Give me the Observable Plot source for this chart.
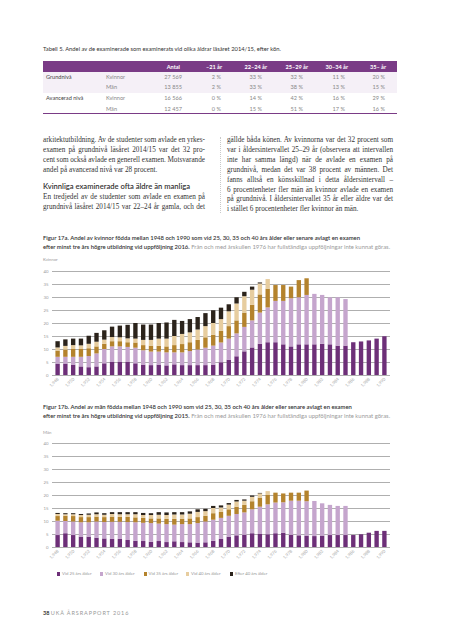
<!DOCTYPE html>
<html><head><meta charset="utf-8">
<script src="https://cdn.jsdelivr.net/npm/d3@7"></script>
<script src="https://cdn.jsdelivr.net/npm/@observablehq/plot@0.6"></script>
<style>
body{margin:0;background:#fff;}
#page{position:relative;width:453px;height:640px;overflow:hidden;font-family:Lato,"Open Sans",sans-serif;color:#333;}
.t{position:absolute;white-space:nowrap;}
.chart{position:absolute;left:0;}
.chart svg{overflow:visible;}
</style></head><body><div id="page"></div>
<script>
// ---------- DATA ----------
const years = [1948,1949,1950,1951,1952,1953,1954,1955,1956,1957,1958,1959,1960,1961,1962,1963,1964,1965,1966,1967,1968,1969,1970,1971,1972,1973,1974,1975,1976,1977,1978,1979,1980,1981,1982,1983,1984,1985,1986,1987,1988,1989,1990];
const tickYears = [1948,1950,1952,1954,1956,1958,1960,1962,1964,1966,1968,1970,1972,1974,1976,1978,1980,1982,1984,1986,1988,1990];
const yTicks = [0,5,10,15,20,25,30,35,40];
const seriesNames = ["Vid 25 års ålder","Vid 30 års ålder","Vid 35 års ålder","Vid 40 års ålder","Efter 40 års ålder"];
const seriesColors = ["#6d2f78","#c5a5cd","#b4832d","#e7cd9f","#2b231b"];

// Kvinnor (segment values, percent)
const kv25 = [4.4,4.4,4.0,3.3,3.0,3.3,4.5,5.0,5.0,5.0,4.5,4.0,3.8,4.0,3.7,4.1,3.8,3.8,3.8,3.8,4.0,4.9,5.9,7.2,9.1,10.6,12.0,12.6,12.6,11.8,11.0,11.8,11.8,11.8,12.0,11.8,11.3,11.3,12.6,12.9,13.3,14.0,14.9];
const kv30 = [2.6,2.6,3.0,3.7,4.3,5.0,5.5,6.0,6.0,5.8,6.0,5.5,5.2,5.0,5.0,4.6,4.9,5.4,6.0,6.7,7.3,7.6,8.1,8.8,9.4,10.4,12.0,13.4,15.9,16.7,18.5,18.1,19.0,19.4,18.8,18.1,18.6,17.9];
const kv35 = [2.4,2.8,3.0,3.0,3.0,2.7,2.0,2.0,2.0,1.8,2.0,2.0,2.3,2.2,2.3,2.8,3.2,3.4,3.7,4.0,4.2,4.5,4.8,5.0,5.5,6.0,7.0,7.2,6.1,6.1,4.5,6.6,6.4];
const kv40 = [1.2,1.4,1.5,1.4,1.7,1.8,1.6,1.6,1.5,1.5,1.5,2.0,2.2,2.8,3.0,3.5,3.9,3.8,4.0,4.3,4.5,4.5,5.7,6.5,6.3,5.8,4.2,3.7];
const kvEfter = [2.4,2.5,2.5,2.6,3.1,3.4,3.6,4.0,4.5,5.2,6.0,5.9,5.9,6.0,6.2,6.2,5.0,5.1,4.8,5.0,4.9,4.4,2.7,2.4,1.7,1.2,0.4];

// Män (segment values, percent)
const man25 = [4.6,5.3,4.6,4.0,4.0,3.6,3.3,3.1,3.1,2.7,2.4,2.3,2.0,2.3,1.9,2.2,1.9,1.8,1.7,1.8,2.4,3.1,4.0,4.5,4.7,5.3,5.0,4.9,5.3,5.5,4.7,4.5,4.4,4.2,4.4,4.6,4.6,4.6,4.6,4.9,5.5,6.2,6.2];
const man30 = [5.5,4.7,5.2,5.5,5.5,6.2,6.3,6.6,6.6,6.9,7.1,7.0,7.2,6.7,6.9,6.4,6.9,7.0,7.5,8.0,8.1,8.1,8.0,8.2,8.6,9.2,10.5,11.5,11.8,11.7,13.1,13.3,13.2,13.5,12.4,11.6,11.2,11.2];
const man35 = [1.8,2.0,2.1,2.0,2.0,1.9,1.9,2.0,1.9,2.0,1.9,1.9,1.8,2.0,2.0,2.2,2.0,2.2,2.3,2.2,2.5,2.3,2.5,2.8,2.9,3.1,3.5,3.6,3.8,3.4,3.1,3.1,4.1];
const man40 = [0.8,0.6,0.7,0.8,0.9,0.9,0.9,1.0,1.0,1.0,1.2,1.1,1.3,1.4,1.5,1.7,1.7,1.8,2.0,1.8,2.0,1.7,1.8,2.0,1.6,1.7,1.6,1.5];
const manEfter = [0.4,0.4,0.4,0.4,0.5,0.7,0.6,0.7,0.8,0.8,0.8,0.8,0.7,1.0,1.0,0.9,0.9,0.9,1.0,0.9,0.8,0.8,0.6,0.6,0.5,0.5,0.2];

// Table
const tableHead = ["Antal","–21 år","22–24 år","25–29 år","30–34 år","35– år"];
const tableLevels = ["Grundnivå","","Avancerad nivå",""];
const tableSex = ["Kvinnor","Män","Kvinnor","Män"];
const tableAntal = ["27 569","13 855","16 566","12 457"];
const tableShares = [["2 %","33 %","32 %","11 %","20 %"],["2 %","33 %","38 %","13 %","15 %"],["0 %","14 %","42 %","16 %","29 %"],["0 %","15 %","51 %","17 %","16 %"]];

// ---------- LAYOUT HELPERS ----------
const page = document.getElementById("page");
function txt(s, x, yc, o={}){
  const el = document.createElement("div");
  el.className = "t";
  el.textContent = s;
  const fs = o.size || 6;
  el.style.fontSize = fs+"px";
  el.style.lineHeight = (fs*1.3)+"px";
  el.style.top = (yc - fs*0.65)+"px";
  el.style.left = x+"px";
  if (o.right) el.style.transform = "translateX(-100%)";
  if (o.weight) el.style.fontWeight = o.weight;
  if (o.color) el.style.color = o.color;
  if (o.family) el.style.fontFamily = o.family;
  if (o.ls) el.style.letterSpacing = o.ls;
  if (o.html) el.innerHTML = o.html;
  page.appendChild(el);
  if (o.width) {
    let w = el.getBoundingClientRect().width;
    const gaps = (s.match(/ /g)||[]).length;
    if (!o.last && gaps > 0) {
      let ws = (o.width - w)/gaps;
      if (ws < -1) { el.style.fontSize = (fs * (o.width + gaps) / (w)) + "px"; w = el.getBoundingClientRect().width; ws = (o.width - w)/gaps; }
      el.style.wordSpacing = ws+"px";
    }
  }
  return el;
}
function box(x,y,w,h,c){const d=document.createElement("div");d.style.cssText=`position:absolute;left:${x}px;top:${y}px;width:${w}px;height:${h}px;background:${c}`;page.appendChild(d);return d;}

// ---------- TABLE ----------
txt("Tabell 5. Andel av de examinerade som examinerats vid olika åldrar läsåret 2014/15, efter kön.", 43, 49, {size:5.8, color:"#333"});
box(43, 61, 354, 11, "#7a3b86");
box(43, 72, 354, 21, "#f5f0f7");
box(43, 112.5, 354, 0.8, "#7a3b86");
const headRight = [180, 222, 267, 308, 348, 386];
const valRight = [182, 221, 262, 303, 345, 385];
tableHead.forEach((h,i)=>txt(h, headRight[i], 66.5, {size:5.6, right:true, color:"#fff", weight:700}));
const rowY = [76.7, 86.7, 97.7, 108.3];
rowY.forEach((y,r)=>{
  if (tableLevels[r]) txt(tableLevels[r], 46, y, {size:5.6, color:"#444"});
  txt(tableSex[r], 106, y, {size:5.6, color:"#888"});
  txt(tableAntal[r], valRight[0], y, {size:5.6, right:true, color:"#888"});
  tableShares[r].forEach((v,c)=>txt(v, valRight[c+1], y, {size:5.6, right:true, color:"#888"}));
});

// ---------- BODY TEXT ----------
const serif = '"Liberation Serif","DejaVu Serif",serif';
const leftLines = [
 ["arkitektutbildning. Av de studenter som avlade en yrkes-",0],
 ["examen på grundnivå läsåret 2014/15 var det 32 pro-",0],
 ["cent som också avlade en generell examen. Motsvarande",0],
 ["andel på avancerad nivå var 28 procent.",1]];
leftLines.forEach((l,i)=>txt(l[0], 43, 140.7+9.9*i, {size:7.2, family:serif, color:"#333", width:162, last:l[1]}));
txt("Kvinnliga examinerade ofta äldre än manliga", 43, 186.7, {size:7.6, weight:600, color:"#333"});
[["En tredjedel av de studenter som avlade en examen på",0],["grundnivå läsåret 2014/15 var 22–24 år gamla, och det",0]]
 .forEach((l,i)=>txt(l[0], 43, 197.3+9.9*i, {size:7.2, family:serif, color:"#333", width:162, last:l[1]}));
const rightLines = [
 ["gällde båda könen. Av kvinnorna var det 32 procent som",0],
 ["var i åldersintervallet 25–29 år (observera att intervallen",0],
 ["inte har samma längd) när de avlade en examen på",0],
 ["grundnivå, medan det var 38 procent av männen. Det",0],
 ["fanns alltså en könsskillnad i detta åldersintervall –",0],
 ["6 procentenheter fler män än kvinnor avlade en examen",0],
 ["på grundnivå. I åldersintervallet 35 år eller äldre var det",0],
 ["i stället 6 procentenheter fler kvinnor än män.",1]];
rightLines.forEach((l,i)=>txt(l[0], 227, 140.7+9.9*i, {size:7.2, family:serif, color:"#333", width:166, last:l[1]}));
const sep = document.createElement("div");
sep.style.cssText = "position:absolute;left:220px;top:137px;height:76px;border-left:1px dotted #c9c9c9;";
page.appendChild(sep);

// ---------- CAPTIONS ----------
function caption(y1, line1, bold2, light2){
  txt(line1, 43, y1, {size:5.9, weight:600, color:"#333"});
  txt("", 43, y1+9, {size:5.9, html:`<span style="font-weight:600;color:#333">${bold2}</span> <span style="color:#999">${light2}</span>`});
}
caption(238.3, "Figur 17a. Andel av kvinnor födda mellan 1948 och 1990 som vid 25, 30, 35 och 40 års ålder eller senare avlagt en examen",
  "efter minst tre års högre utbildning vid uppföljning 2016.", "Från och med årskullen 1976 har fullständiga uppföljningar inte kunnat göras.");
txt("Kvinnor", 43, 260, {size:4.3, color:"#999"});
caption(407.3, "Figur 17b. Andel av män födda mellan 1948 och 1990 som vid 25, 30, 35 och 40 års ålder eller senare avlagt en examen",
  "efter minst tre års högre utbildning vid uppföljning 2015.", "Från och med årskullen 1976 har fullständiga uppföljningar inte kunnat göras.");
txt("Män", 43, 432.7, {size:4.3, color:"#999"});

// ---------- CHARTS ----------
function longData(arrs){
  const out = [];
  years.forEach((yr,i)=>arrs.forEach((a,j)=>{ const v=a[i]; if(v!=null) out.push({year:yr, series:seriesNames[j], value:v}); }));
  return out;
}
function chart(data, top){
  const svg = Plot.plot({
    width: 453, height: 130,
    marginLeft: 52, marginRight: 63, marginTop: 9, marginBottom: 17,
    style: {fontFamily:"Lato,sans-serif", fontSize:"4.3px", color:"#9a9a9a", background:"transparent", overflow:"visible"},
    x: {type:"band", domain: years, padding: 0.44, label:null},
    y: {domain:[0,40], label:null},
    color: {domain: seriesNames, range: seriesColors},
    marks: [
      Plot.ruleY(yTicks, {stroke:"#9b9b9b", strokeWidth:0.8}),
      Plot.barY(data, {x:"year", y:"value", fill:"series"}),
      Plot.axisY({ticks: yTicks, tickSize:0, tickPadding:4, label:null, fill:"#9a9a9a"}),
      Plot.axisX({ticks: tickYears, tickSize:0, tickPadding:3, tickRotate:-45, label:null, fill:"#a8a8a8"})
    ]
  });
  const wrap = document.createElement("div");
  wrap.className = "chart";
  wrap.style.top = top+"px";
  wrap.appendChild(svg);
  page.appendChild(wrap);
}
chart(longData([kv25,kv30,kv35,kv40,kvEfter]), 262);
chart(longData([man25,man30,man35,man40,manEfter]), 434);

// ---------- LEGEND ----------
const legX = [57, 100, 143.5, 186, 230];
seriesNames.forEach((s,i)=>{
  box(legX[i], 572.3, 3.4, 3.4, seriesColors[i]);
  txt(s, legX[i]+5, 574, {size:4.3, color:"#999"});
});

// ---------- FOOTER ----------
txt("", 43, 614, {size:5.5, html:`<span style="font-weight:700;color:#333">38</span> <span style="color:#999;letter-spacing:0.9px">UKÄ ÅRSRAPPORT 2016</span>`});
</script></body></html>
